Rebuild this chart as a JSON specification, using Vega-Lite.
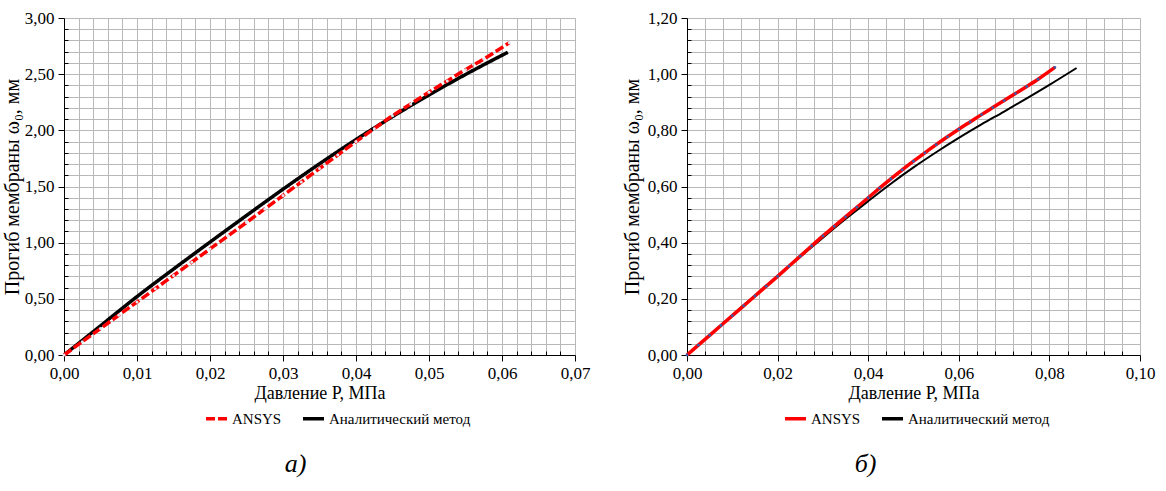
{
  "$schema": "https://vega.github.io/schema/vega-lite/v6.json",
  "background": "white",
  "padding": {"left": 2, "top": 9, "right": 5, "bottom": 5},
  "spacing": 32,
  "config": {
    "font": "Liberation Serif, Times New Roman, serif",
    "view": {"stroke": null},
    "axis": {
      "domainColor": "#000000",
      "domainWidth": 1,
      "tickColor": "#000000",
      "gridColor": "#b8b8b8",
      "gridWidth": 1,
      "labelFont": "Liberation Serif, Times New Roman, serif",
      "labelFontSize": 17,
      "labelColor": "#000000",
      "titleFont": "Liberation Serif, Times New Roman, serif",
      "titleFontSize": 18,
      "titleFontWeight": "normal",
      "titleColor": "#000000",
      "labelPadding": 4,
      "labelOverlap": false,
      "labelFlush": false
    },
    "legend": {
      "orient": "none",
      "direction": "horizontal",
      "title": null,
      "padding": 0,
      "labelFont": "Liberation Serif, Times New Roman, serif",
      "labelFontSize": 15,
      "labelColor": "#000000",
      "labelOffset": 3,
      "symbolType": "stroke",
      "symbolSize": 441,
      "symbolStrokeWidth": 3.5,
      "columnPadding": 14,
      "labelLimit": 0
    },
    "title": {"font": "Liberation Serif, Times New Roman, serif", "fontSize": 26, "fontStyle": "italic", "fontWeight": "normal", "color": "#000000", "orient": "bottom", "anchor": "middle", "offset": 24}
  },
  "datasets": {
    "a": [
      {"P": 0, "w": 0, "series": "Аналитический метод"},
      {"P": 0.005, "w": 0.26, "series": "Аналитический метод"},
      {"P": 0.01, "w": 0.52, "series": "Аналитический метод"},
      {"P": 0.015, "w": 0.765, "series": "Аналитический метод"},
      {"P": 0.02, "w": 1.005, "series": "Аналитический метод"},
      {"P": 0.025, "w": 1.242, "series": "Аналитический метод"},
      {"P": 0.03, "w": 1.476, "series": "Аналитический метод"},
      {"P": 0.035, "w": 1.702, "series": "Аналитический метод"},
      {"P": 0.04, "w": 1.918, "series": "Аналитический метод"},
      {"P": 0.045, "w": 2.122, "series": "Аналитический метод"},
      {"P": 0.05, "w": 2.315, "series": "Аналитический метод"},
      {"P": 0.055, "w": 2.497, "series": "Аналитический метод"},
      {"P": 0.0608, "w": 2.695, "series": "Аналитический метод"},
      {"P": 0, "w": 0, "series": "ANSYS"},
      {"P": 0.0025, "w": 0.118, "series": "ANSYS"},
      {"P": 0.005, "w": 0.236, "series": "ANSYS"},
      {"P": 0.0075, "w": 0.354, "series": "ANSYS"},
      {"P": 0.01, "w": 0.472, "series": "ANSYS"},
      {"P": 0.0125, "w": 0.59, "series": "ANSYS"},
      {"P": 0.015, "w": 0.708, "series": "ANSYS"},
      {"P": 0.0175, "w": 0.826, "series": "ANSYS"},
      {"P": 0.02, "w": 0.944, "series": "ANSYS"},
      {"P": 0.0225, "w": 1.062, "series": "ANSYS"},
      {"P": 0.025, "w": 1.18, "series": "ANSYS"},
      {"P": 0.0275, "w": 1.3, "series": "ANSYS"},
      {"P": 0.03, "w": 1.42, "series": "ANSYS"},
      {"P": 0.0325, "w": 1.54, "series": "ANSYS"},
      {"P": 0.035, "w": 1.66, "series": "ANSYS"},
      {"P": 0.0375, "w": 1.78, "series": "ANSYS"},
      {"P": 0.04, "w": 1.9, "series": "ANSYS"},
      {"P": 0.0425, "w": 2.015, "series": "ANSYS"},
      {"P": 0.045, "w": 2.13, "series": "ANSYS"},
      {"P": 0.0475, "w": 2.235, "series": "ANSYS"},
      {"P": 0.05, "w": 2.34, "series": "ANSYS"},
      {"P": 0.0525, "w": 2.44, "series": "ANSYS"},
      {"P": 0.055, "w": 2.54, "series": "ANSYS"},
      {"P": 0.0575, "w": 2.635, "series": "ANSYS"},
      {"P": 0.061, "w": 2.78, "series": "ANSYS"}
    ],
    "b": [
      {"P": 0, "w": 0, "series": "Аналитический метод"},
      {"P": 0.005, "w": 0.071, "series": "Аналитический метод"},
      {"P": 0.01, "w": 0.142, "series": "Аналитический метод"},
      {"P": 0.015, "w": 0.212, "series": "Аналитический метод"},
      {"P": 0.02, "w": 0.281, "series": "Аналитический метод"},
      {"P": 0.025, "w": 0.35, "series": "Аналитический метод"},
      {"P": 0.03, "w": 0.418, "series": "Аналитический метод"},
      {"P": 0.035, "w": 0.484, "series": "Аналитический метод"},
      {"P": 0.04, "w": 0.548, "series": "Аналитический метод"},
      {"P": 0.045, "w": 0.61, "series": "Аналитический метод"},
      {"P": 0.05, "w": 0.668, "series": "Аналитический метод"},
      {"P": 0.055, "w": 0.722, "series": "Аналитический метод"},
      {"P": 0.06, "w": 0.773, "series": "Аналитический метод"},
      {"P": 0.065, "w": 0.821, "series": "Аналитический метод"},
      {"P": 0.07, "w": 0.867, "series": "Аналитический метод"},
      {"P": 0.075, "w": 0.914, "series": "Аналитический метод"},
      {"P": 0.08, "w": 0.962, "series": "Аналитический метод"},
      {"P": 0.086, "w": 1.022, "series": "Аналитический метод"},
      {"P": 0, "w": 0, "series": "ANSYS"},
      {"P": 0.0025, "w": 0.035, "series": "ANSYS"},
      {"P": 0.005, "w": 0.07, "series": "ANSYS"},
      {"P": 0.0075, "w": 0.105, "series": "ANSYS"},
      {"P": 0.01, "w": 0.14, "series": "ANSYS"},
      {"P": 0.0125, "w": 0.175, "series": "ANSYS"},
      {"P": 0.015, "w": 0.21, "series": "ANSYS"},
      {"P": 0.0175, "w": 0.245, "series": "ANSYS"},
      {"P": 0.02, "w": 0.28, "series": "ANSYS"},
      {"P": 0.0225, "w": 0.316, "series": "ANSYS"},
      {"P": 0.025, "w": 0.352, "series": "ANSYS"},
      {"P": 0.0275, "w": 0.388, "series": "ANSYS"},
      {"P": 0.03, "w": 0.424, "series": "ANSYS"},
      {"P": 0.0325, "w": 0.458, "series": "ANSYS"},
      {"P": 0.035, "w": 0.492, "series": "ANSYS"},
      {"P": 0.0375, "w": 0.526, "series": "ANSYS"},
      {"P": 0.04, "w": 0.56, "series": "ANSYS"},
      {"P": 0.0425, "w": 0.594, "series": "ANSYS"},
      {"P": 0.045, "w": 0.627, "series": "ANSYS"},
      {"P": 0.0475, "w": 0.659, "series": "ANSYS"},
      {"P": 0.05, "w": 0.69, "series": "ANSYS"},
      {"P": 0.0525, "w": 0.72, "series": "ANSYS"},
      {"P": 0.055, "w": 0.749, "series": "ANSYS"},
      {"P": 0.0575, "w": 0.777, "series": "ANSYS"},
      {"P": 0.06, "w": 0.804, "series": "ANSYS"},
      {"P": 0.0625, "w": 0.83, "series": "ANSYS"},
      {"P": 0.065, "w": 0.856, "series": "ANSYS"},
      {"P": 0.0675, "w": 0.881, "series": "ANSYS"},
      {"P": 0.07, "w": 0.906, "series": "ANSYS"},
      {"P": 0.0725, "w": 0.931, "series": "ANSYS"},
      {"P": 0.075, "w": 0.956, "series": "ANSYS"},
      {"P": 0.0775, "w": 0.982, "series": "ANSYS"},
      {"P": 0.0812, "w": 1.024, "series": "ANSYS"}
    ]
  },
  "hconcat": [
    {
      "width": 511,
      "height": 337,
      "data": {"name": "a"},
      "title": {"text": "а)", "dx": -24},
      "encoding": {
        "x": {
          "field": "P", "type": "quantitative",
          "scale": {"domain": [0, 0.07], "nice": false, "zero": false},
          "title": "Давление Р, МПа",
          "axis": {
            "values": [0,0.002,0.004,0.006,0.008,0.01,0.012,0.014,0.016,0.018,0.02,0.022,0.024,0.026,0.028,0.03,0.032,0.034,0.036,0.038,0.04,0.042,0.044,0.046,0.048,0.05,0.052,0.054,0.056,0.058,0.06,0.062,0.064,0.066,0.068,0.07],
            "labelExpr": "abs(datum.value*100 - round(datum.value*100)) < 0.001 ? replace(format(datum.value, '.2f'), '.', ',') : ''",
            "tickSize": {"condition": {"test": "abs(datum.value*100 - round(datum.value*100)) < 0.001", "value": 6}, "value": -4},
            "titlePadding": 3
          }
        },
        "y": {
          "field": "w", "type": "quantitative",
          "scale": {"domain": [0, 3], "nice": false, "zero": false},
          "title": "Прогиб мембраны ω₀, мм",
          "axis": {
            "values": [0,0.1,0.2,0.3,0.4,0.5,0.6,0.7,0.8,0.9,1,1.1,1.2,1.3,1.4,1.5,1.6,1.7,1.8,1.9,2,2.1,2.2,2.3,2.4,2.5,2.6,2.7,2.8,2.9,3],
            "labelExpr": "abs(datum.value*2 - round(datum.value*2)) < 0.001 ? replace(format(datum.value, '.2f'), '.', ',') : ''",
            "tickSize": {"condition": {"test": "abs(datum.value*2 - round(datum.value*2)) < 0.001", "value": 6}, "value": -4},
            "titleFontSize": 20,
            "titlePadding": 2
          }
        }
      },
      "layer": [
        {
          "mark": {"type": "line", "strokeWidth": 3.5, "interpolate": "monotone"},
          "encoding": {
            "color": {"field": "series", "type": "nominal", "scale": {"domain": ["ANSYS", "Аналитический метод"], "range": ["#ff0000", "#000000"]}, "legend": {"legendX": 140, "legendY": 388}},
            "strokeDash": {"field": "series", "type": "nominal", "scale": {"domain": ["ANSYS", "Аналитический метод"], "range": [[9, 3], [1, 0]]}, "legend": {"legendX": 140, "legendY": 388}},
            "order": {"field": "series", "sort": "descending"}
          }
        },
        {
          "transform": [{"filter": "datum.series === 'ANSYS'"}],
          "mark": {"type": "point", "filled": true, "color": "#dfe4f0", "size": 9, "opacity": 1},
          "encoding": {}
        }
      ]
    },
    {
      "width": 453,
      "height": 337,
      "data": {"name": "b"},
      "title": {"text": "б)", "dx": -48},
      "encoding": {
        "x": {
          "field": "P", "type": "quantitative",
          "scale": {"domain": [0, 0.1], "nice": false, "zero": false},
          "title": "Давление Р, МПа",
          "axis": {
            "values": [0,0.004,0.008,0.012,0.016,0.02,0.024,0.028,0.032,0.036,0.04,0.044,0.048,0.052,0.056,0.06,0.064,0.068,0.072,0.076,0.08,0.084,0.088,0.092,0.096,0.1],
            "labelExpr": "abs(datum.value*50 - round(datum.value*50)) < 0.001 ? replace(format(datum.value, '.2f'), '.', ',') : ''",
            "tickSize": {"condition": {"test": "abs(datum.value*50 - round(datum.value*50)) < 0.001", "value": 6}, "value": -4},
            "titlePadding": 3
          }
        },
        "y": {
          "field": "w", "type": "quantitative",
          "scale": {"domain": [0, 1.2], "nice": false, "zero": false},
          "title": "Прогиб мембраны ω₀, мм",
          "axis": {
            "values": [0,0.04,0.08,0.12,0.16,0.2,0.24,0.28,0.32,0.36,0.4,0.44,0.48,0.52,0.56,0.6,0.64,0.68,0.72,0.76,0.8,0.84,0.88,0.92,0.96,1,1.04,1.08,1.12,1.16,1.2],
            "labelExpr": "abs(datum.value*5 - round(datum.value*5)) < 0.001 ? replace(format(datum.value, '.2f'), '.', ',') : ''",
            "tickSize": {"condition": {"test": "abs(datum.value*5 - round(datum.value*5)) < 0.001", "value": 6}, "value": -4},
            "titleFontSize": 20,
            "titlePadding": 5
          }
        },
        "color": {"field": "series", "type": "nominal", "scale": {"domain": ["ANSYS", "Аналитический метод"], "range": ["#ff0000", "#000000"]}, "legend": {"legendX": 96, "legendY": 388}}
      },
      "layer": [
        {
          "transform": [{"filter": "datum.series !== 'ANSYS'"}],
          "mark": {"type": "line", "strokeWidth": 2, "interpolate": "monotone"}
        },
        {
          "transform": [{"filter": "datum.series === 'ANSYS'"}],
          "mark": {"type": "line", "strokeWidth": 3.5, "interpolate": "monotone"}
        },
        {
          "transform": [{"filter": "datum.series === 'ANSYS'"}],
          "mark": {"type": "point", "filled": true, "size": 8, "opacity": 1},
          "encoding": {"color": {"value": "#3a5aa8"}}
        }
      ],
      "resolve": {"scale": {"color": "shared"}}
    }
  ],
  "resolve": {"legend": {"color": "independent", "strokeDash": "independent"}, "scale": {"color": "independent", "strokeDash": "independent"}}
}
